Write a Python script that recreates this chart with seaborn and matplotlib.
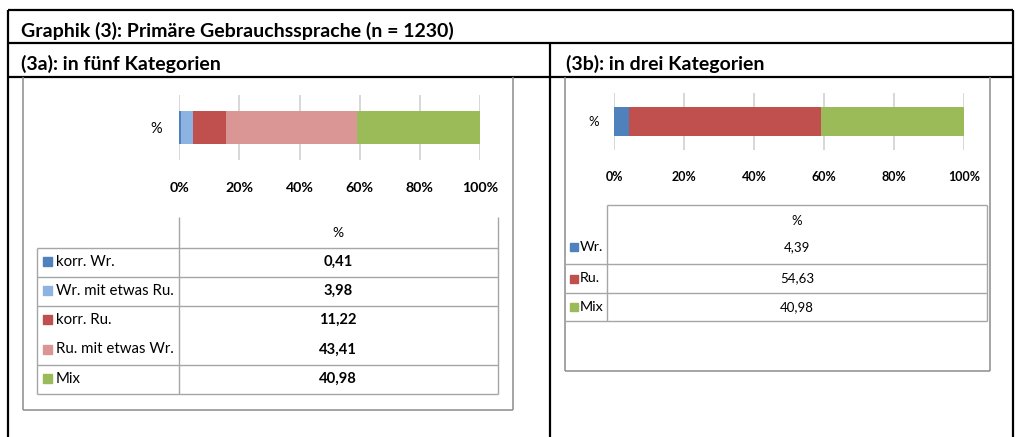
import matplotlib
matplotlib.use("Agg")
import matplotlib.pyplot as plt
from matplotlib.lines import Line2D
from matplotlib.patches import Rectangle
import seaborn as sns
import numpy as np

# ---------------- data ----------------
title = "Graphik (3): Primäre Gebrauchssprache (n = 1230)"
sub_a = "(3a): in fünf Kategorien"
sub_b = "(3b): in drei Kategorien"

cats_a = ["korr. Wr.", "Wr. mit etwas Ru.", "korr. Ru.", "Ru. mit etwas Wr.", "Mix"]
vals_a = [0.41, 3.98, 11.22, 43.41, 40.98]
labels_a = ["0,41", "3,98", "11,22", "43,41", "40,98"]
colors_a = ["#4F81BD", "#8DB3E2", "#C0504D", "#DA9694", "#9BBB59"]

cats_b = ["Wr.", "Ru.", "Mix"]
vals_b = [4.39, 54.63, 40.98]
labels_b = ["4,39", "54,63", "40,98"]
colors_b = ["#4F81BD", "#C0504D", "#9BBB59"]

series_name = "%"
xticks = [0, 20, 40, 60, 80, 100]
xticklabels = ["0%", "20%", "40%", "60%", "80%", "100%"]

# ---------------- setup ----------------
sns.set_theme(style="white")
plt.rcParams["font.family"] = ["Lato", "DejaVu Sans"]

W, H = 1016, 437
fig = plt.figure(figsize=(W / 100, H / 100), dpi=100)
fig.patch.set_facecolor("white")


def fx(x):
    return x / W


def fy(y):
    return 1 - y / H


def line(x0, y0, x1, y1, color="black", lw=1.0):
    fig.add_artist(Line2D([fx(x0), fx(x1)], [fy(y0), fy(y1)],
                          transform=fig.transFigure, color=color, lw=lw,
                          solid_capstyle="butt"))


def text(x, y, s, **kw):
    fig.text(fx(x), fy(y), s, transform=fig.transFigure, color="black", **kw)


# ---------------- document table ----------------
BLK = 1.6
line(8, 10, 1013, 10, lw=BLK)
line(8, 10, 8, 437, lw=BLK)
line(1013, 10, 1013, 437, lw=BLK)
line(8, 43, 1013, 43, lw=BLK)
line(8, 77, 1013, 77, lw=BLK)
line(550, 43, 550, 437, lw=BLK)

TS = 14.0
text(21, 31, title, fontsize=TS, fontweight="bold", va="center", ha="left")
text(21, 64, sub_a, fontsize=TS, fontweight="bold", va="center", ha="left")
text(566, 64, sub_b, fontsize=TS, fontweight="bold", va="center", ha="left")

FRAME = "#8C8C8C"
GRID = "#D4D4D4"
TBL = "#A6A6A6"

# chart frames
line(22.5, 77, 22.5, 410, color=FRAME, lw=1.1)
line(22.5, 410, 513, 410, color=FRAME, lw=1.1)
line(513, 77, 513, 410, color=FRAME, lw=1.1)

line(565, 77, 565, 371, color=FRAME, lw=1.1)
line(565, 371, 990, 371, color=FRAME, lw=1.1)
line(990, 77, 990, 371, color=FRAME, lw=1.1)


def stacked(ax, vals, colors, pad_x, pad_y, tsize, ysize):
    cum = np.cumsum(vals)
    cum = cum / cum[-1] * 100
    for c, col in reversed(list(zip(cum, colors))):
        sns.barplot(x=[c], y=[series_name], orient="h", color=col,
                    width=0.51, saturation=1, linewidth=0, ax=ax, zorder=3)
    ax.set_xlim(0, 100)
    ax.set_xticks(xticks)
    ax.set_xticklabels(xticklabels, fontsize=tsize, fontweight="bold")
    ax.grid(axis="x", color=GRID, lw=1.3)
    ax.grid(axis="y", visible=False)
    ax.set_axisbelow(True)
    for s in ax.spines.values():
        s.set_visible(False)
    ax.tick_params(axis="x", length=0, pad=pad_x, labelcolor="black")
    ax.tick_params(axis="y", length=0, pad=pad_y, labelsize=ysize, labelcolor="black")
    ax.set_xlabel("")
    ax.set_ylabel("")
    ax.patch.set_alpha(0)


# ---------------- chart 3a ----------------
ax_a = fig.add_axes([fx(179.3), fy(160), (480 - 179.3) / W, (160 - 95) / H])
stacked(ax_a, vals_a, colors_a, pad_x=15.5, pad_y=12.5, tsize=10.2, ysize=10.5)

# data table 3a
xl, xm, xr = 37, 179.3, 498
rows_a = [248.3, 277.3, 306.3, 335.5, 365.3, 394]
line(xm, 217, xm, 394, color=TBL)
line(xr, 217, xr, 394, color=TBL)
line(xl, 248.3, xl, 394, color=TBL)
for i, yy in enumerate(rows_a):
    if i == 3:
        continue  # no separator between these two rows
    line(xl, yy, xr, yy, color=TBL)
text(338, 233, series_name, fontsize=10, ha="center", va="center")
for i, (cat, lab, col) in enumerate(zip(cats_a, labels_a, colors_a)):
    yc = (rows_a[i] + rows_a[i + 1]) / 2 - 1
    fig.patches.append(Rectangle((fx(42.5), fy(yc + 4.5)), 9 / W, 9 / H,
                                 transform=fig.transFigure, color=col))
    text(55.5, yc, cat, fontsize=10.8, ha="left", va="center")
    text(338, yc, lab, fontsize=10.6, fontweight="bold", ha="center", va="center")

# ---------------- chart 3b ----------------
ax_b = fig.add_axes([fx(614), fy(150), (964 - 614) / W, (150 - 93) / H])
stacked(ax_b, vals_b, colors_b, pad_x=15, pad_y=11, tsize=9, ysize=9.5)

xl, xm, xr = 565, 607, 987
rows_b = [205, 235, 264, 293, 321]
line(xm, 205, xr, 205, color=TBL)
line(xm, 205, xm, 321, color=TBL)
line(xr, 205, xr, 321, color=TBL)
for yy in rows_b[2:]:
    line(xl, yy, xr, yy, color=TBL)
text(797, 221, series_name, fontsize=9.5, ha="center", va="center")
for i, (cat, lab, col) in enumerate(zip(cats_b, labels_b, colors_b)):
    yc = [247, 278.5, 307][i]
    fig.patches.append(Rectangle((fx(570), fy(yc + 4)), 8 / W, 8 / H,
                                 transform=fig.transFigure, color=col))
    text(580, yc, cat, fontsize=10.3, ha="left", va="center")
    text(797, yc, lab, fontsize=9.5, ha="center", va="center")

fig.savefig("out.png", dpi=100, facecolor="white")
